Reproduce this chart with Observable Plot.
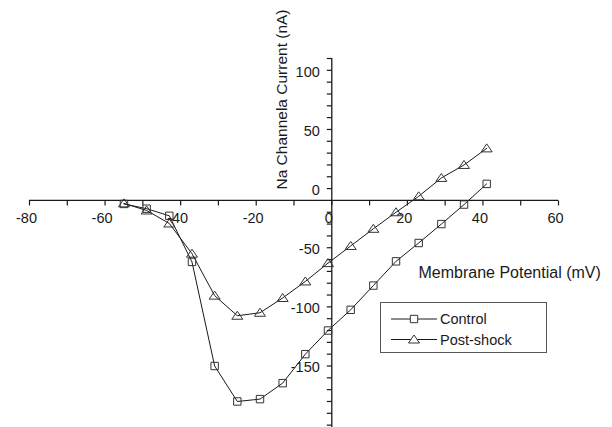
<!DOCTYPE html>
<html>
<head>
<meta charset="utf-8">
<script src="https://cdn.jsdelivr.net/npm/d3@7"></script>
<script src="https://cdn.jsdelivr.net/npm/@observablehq/plot@0.6"></script>
<style>
  html, body { margin: 0; padding: 0; background: white; }
  #wrap { position: relative; width: 612px; height: 427px; overflow: hidden; font-family: "Liberation Sans", Arial, sans-serif; }
  #legend { position: absolute; left: 380px; top: 302px; width: 165px; height: 49px; border: 1px solid #555; background: white; }
</style>
</head>
<body>
<div id="wrap"></div>
<script>
// Data (membrane potential in mV, Na channel current in nA)
const voltage = [-55, -49, -43, -37, -31, -25, -19, -13, -7, -1, 5, 11, 17, 23, 29, 35, 41];
const controlCurrent = [-3, -7, -13, -52, -140, -170, -168, -154.5, -130, -110, -92.5, -72, -51.5, -36, -20, -3.5, 14];
const postShockCurrent = [-2.5, -8.5, -19.5, -45, -80.5, -97.5, -95, -82.5, -68.5, -53, -38.5, -24, -10, 3.5, 19, 30, 44];
const seriesNames = ["Control", "Post-shock"];

// Axis ticks and labels
const xMajorLabels = [-80, -60, -40, -20, 0, 20, 40, 60];
const xTickValues = [-80, -70, -60, -50, -40, -30, -20, -10, 0, 10, 20, 30, 40, 50, 60];
const yMajorLabels = [100, 50, 0, -50, -100, -150];
const yTickValues = [120, 110, 100, 90, 80, 70, 60, 50, 40, 30, 20, 10, -10, -20, -30, -40, -50, -60, -70, -80, -90, -100, -110, -120, -130, -140, -150, -160, -170, -180, -190];
const xTitle = "Membrane Potential (mV)";
const yTitle = "Na Channela Current (nA)";

const control = voltage.map((v, i) => ({v, c: controlCurrent[i]}));
const postShock = voltage.map((v, i) => ({v, c: postShockCurrent[i]}));

const squareSym = {draw(ctx) { ctx.moveTo(-3.7, -3.7); ctx.lineTo(3.7, -3.7); ctx.lineTo(3.7, 3.7); ctx.lineTo(-3.7, 3.7); ctx.closePath(); }};
const triSym = {draw(ctx) { ctx.moveTo(0, -4.5); ctx.lineTo(5.5, 3.5); ctx.lineTo(-5.5, 3.5); ctx.closePath(); }};
const tickDown = {draw(ctx) { ctx.moveTo(0, 0); ctx.lineTo(0, 5); }};
const tickLeft = {draw(ctx) { ctx.moveTo(0, 0); ctx.lineTo(-5, 0); }};

const ink = "#1a1a1a";

const chart = Plot.plot({
  width: 612,
  height: 427,
  marginLeft: 29,
  marginRight: 54,
  marginTop: 58,
  marginBottom: 0,
  style: {fontFamily: "'Liberation Sans', Arial, sans-serif", fontSize: "14px", background: "white", color: ink},
  x: {domain: [-80, 60], axis: null},
  y: {domain: [-192, 120], axis: null},
  marks: [
    // axes through origin
    Plot.ruleY([0], {stroke: ink, strokeWidth: 1.3}),
    Plot.ruleX([0], {stroke: ink, strokeWidth: 1.3}),
    Plot.dot(xTickValues, {x: d => d, y: 0, symbol: tickDown, stroke: ink, strokeWidth: 1.2}),
    Plot.dot(yTickValues, {x: 0, y: d => d, symbol: tickLeft, stroke: ink, strokeWidth: 1.2}),
    Plot.text(xMajorLabels, {x: d => d, y: 0, text: d => String(d), dy: 18, dx: -3, fontSize: 14.5, fill: ink}),
    Plot.text(yMajorLabels, {x: 0, y: d => d, text: d => String(d), textAnchor: "end", dx: -12, dy: -10, fontSize: 14.5, fill: ink}),
    // titles
    Plot.text([yTitle], {frameAnchor: "top-left", textAnchor: "middle", dx: 246, dy: 41, rotate: -90, fontSize: 15.5, fill: ink}),
    Plot.text([xTitle], {frameAnchor: "top-left", textAnchor: "start", dx: 389, dy: 208, fontSize: 16, fill: ink}),
    // series
    Plot.line(control, {x: "v", y: "c", stroke: ink, strokeWidth: 1}),
    Plot.line(postShock, {x: "v", y: "c", stroke: ink, strokeWidth: 1}),
    Plot.dot(control, {x: "v", y: "c", symbol: squareSym, stroke: "#333", strokeWidth: 1, fill: "none"}),
    Plot.dot(postShock, {x: "v", y: "c", symbol: triSym, stroke: "#333", strokeWidth: 1, fill: "none"})
  ]
});

const wrap = document.getElementById("wrap");
wrap.appendChild(chart);

// Legend
const legend = document.createElement("div");
legend.id = "legend";
const ns = "http://www.w3.org/2000/svg";
const lsvg = document.createElementNS(ns, "svg");
lsvg.setAttribute("width", 165);
lsvg.setAttribute("height", 49);
const sym = [
  "M-3.7,-3.7L3.7,-3.7L3.7,3.7L-3.7,3.7Z",
  "M0,-4.5L5.5,3.5L-5.5,3.5Z"
];
seriesNames.forEach((name, i) => {
  const cy = 16 + i * 20.5;
  const ln = document.createElementNS(ns, "line");
  ln.setAttribute("x1", 10); ln.setAttribute("x2", 56);
  ln.setAttribute("y1", cy); ln.setAttribute("y2", cy);
  ln.setAttribute("stroke", ink); ln.setAttribute("stroke-width", 1);
  lsvg.appendChild(ln);
  const p = document.createElementNS(ns, "path");
  p.setAttribute("d", sym[i]);
  p.setAttribute("transform", `translate(33,${cy})`);
  p.setAttribute("fill", "white");
  p.setAttribute("stroke", "#333");
  lsvg.appendChild(p);
  const t = document.createElementNS(ns, "text");
  t.setAttribute("x", 59);
  t.setAttribute("y", cy);
  t.setAttribute("dy", "0.35em");
  t.setAttribute("font-size", "14.5px");
  t.setAttribute("font-family", "'Liberation Sans', Arial, sans-serif");
  t.setAttribute("fill", ink);
  t.textContent = name;
  lsvg.appendChild(t);
});
legend.appendChild(lsvg);
wrap.appendChild(legend);
</script>
</body>
</html>
